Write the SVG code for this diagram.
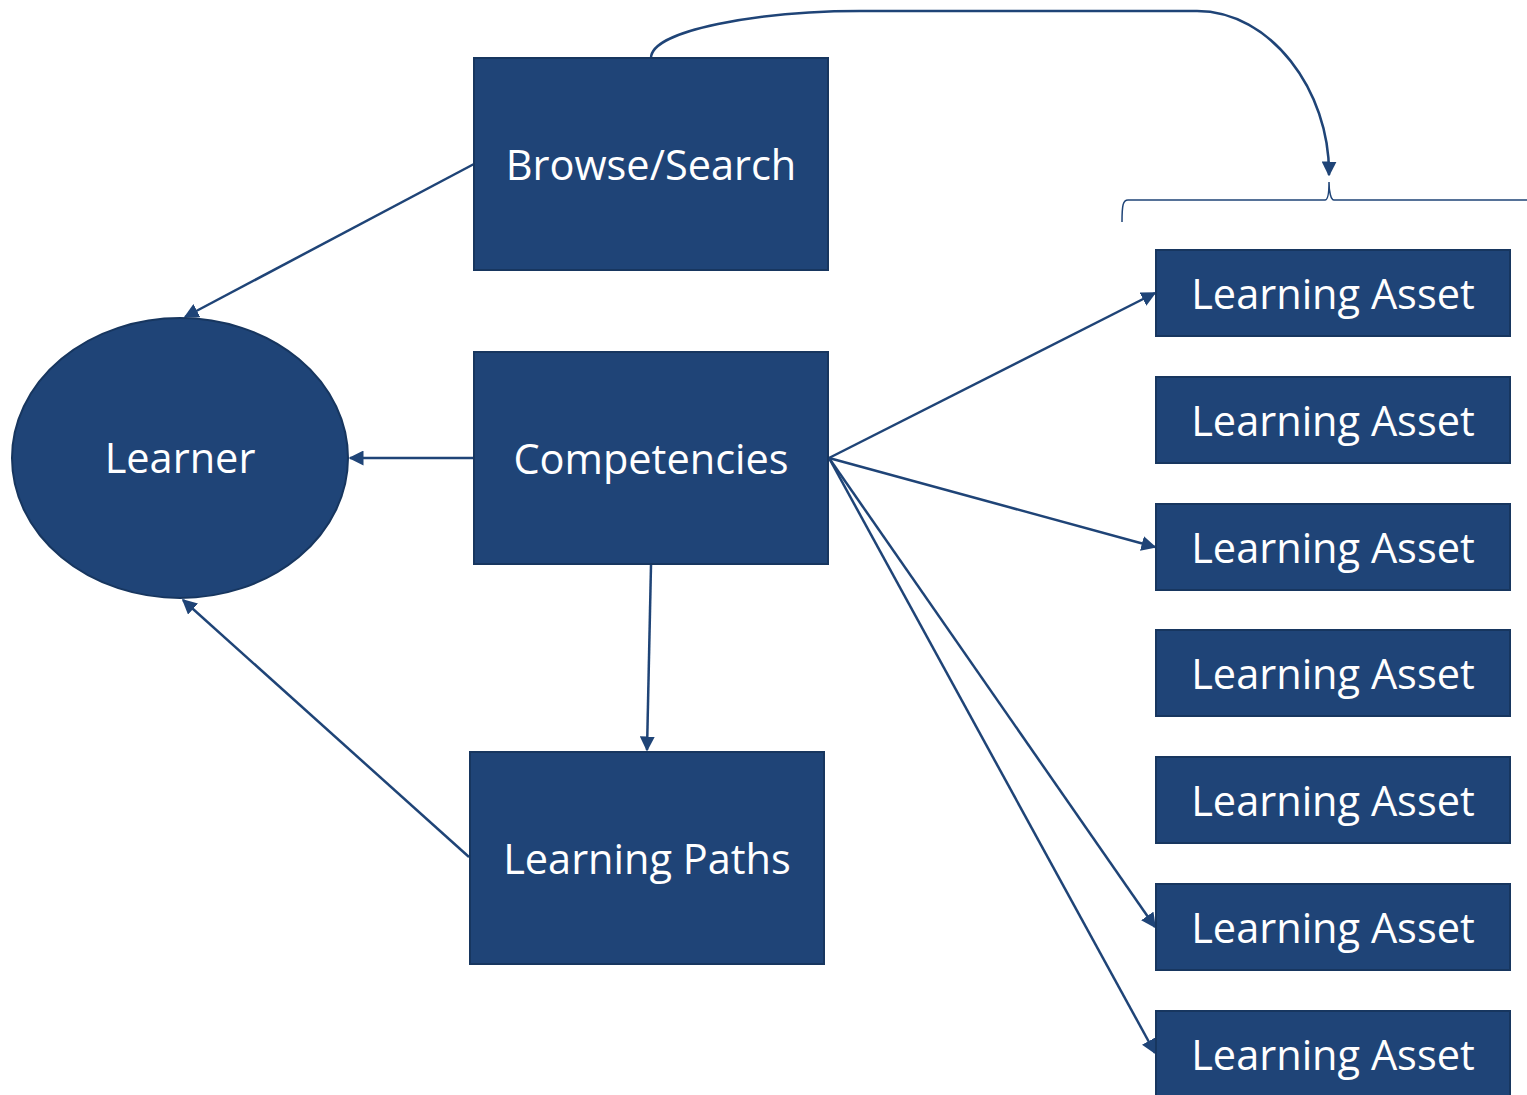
<svg xmlns="http://www.w3.org/2000/svg" width="1527" height="1095" viewBox="0 0 1527 1095">
<style>
.n{fill:#1f4477;stroke:#17365f;stroke-width:2}
.t{fill:#fff;font-family:"Open Sans","Noto Sans",sans-serif;font-size:41.5px;text-anchor:middle}
.c{fill:none;stroke:#1f4477;stroke-width:2.5}
</style>
<defs>
<marker id="a" viewBox="0 0 10 10" refX="9" refY="5" markerWidth="6" markerHeight="6" orient="auto" markerUnits="strokeWidth">
<path d="M0,0L10,5L0,10z" fill="#1f4477"/>
</marker>
</defs>
<rect width="1527" height="1095" fill="#fff"/>
<g id="connectors">
<line class="c" x1="474" y1="164" x2="185" y2="317" marker-end="url(#a)"/>
<line class="c" x1="474" y1="458" x2="350" y2="458" marker-end="url(#a)"/>
<line class="c" x1="469" y1="857" x2="183" y2="600" marker-end="url(#a)"/>
<line class="c" x1="651" y1="565" x2="647" y2="750" marker-end="url(#a)"/>
<line class="c" x1="829" y1="458" x2="1155" y2="293" marker-end="url(#a)"/>
<line class="c" x1="829" y1="458" x2="1155" y2="547" marker-end="url(#a)"/>
<line class="c" x1="829" y1="458" x2="1155" y2="927" marker-end="url(#a)"/>
<line class="c" x1="829" y1="458" x2="1155" y2="1053" marker-end="url(#a)"/>
<path class="c" d="M651,58 C651,30 760,11 860,11 L1197,11 C1270,11 1330,90 1329,175" marker-end="url(#a)"/>
<path fill="none" stroke="#1f4477" stroke-width="1.5" d="M1122,222 C1122,205 1123,200 1128,200 L1325,200 C1328,200 1329,192 1329,182 C1329,192 1331,200 1334,200 L1527,200"/>
</g>
<g id="learner"><ellipse class="n" cx="180" cy="458" rx="168" ry="140"/><text class="t" x="180" y="473">Learner</text></g>
<g id="browse"><rect class="n" x="474" y="58" width="354" height="212"/><text class="t" x="651" y="180">Browse/Search</text></g>
<g id="competencies"><rect class="n" x="474" y="352" width="354" height="212"/><text class="t" x="651" y="474">Competencies</text></g>
<g id="paths"><rect class="n" x="470" y="752" width="354" height="212"/><text class="t" x="647" y="874">Learning Paths</text></g>
<g id="asset1"><rect class="n" x="1156" y="250" width="354" height="86"/><text class="t" x="1333" y="309">Learning Asset</text></g>
<g id="asset2"><rect class="n" x="1156" y="377" width="354" height="86"/><text class="t" x="1333" y="436">Learning Asset</text></g>
<g id="asset3"><rect class="n" x="1156" y="504" width="354" height="86"/><text class="t" x="1333" y="563">Learning Asset</text></g>
<g id="asset4"><rect class="n" x="1156" y="630" width="354" height="86"/><text class="t" x="1333" y="689">Learning Asset</text></g>
<g id="asset5"><rect class="n" x="1156" y="757" width="354" height="86"/><text class="t" x="1333" y="816">Learning Asset</text></g>
<g id="asset6"><rect class="n" x="1156" y="884" width="354" height="86"/><text class="t" x="1333" y="943">Learning Asset</text></g>
<g id="asset7"><rect class="n" x="1156" y="1011" width="354" height="86"/><text class="t" x="1333" y="1070">Learning Asset</text></g>
</svg>
